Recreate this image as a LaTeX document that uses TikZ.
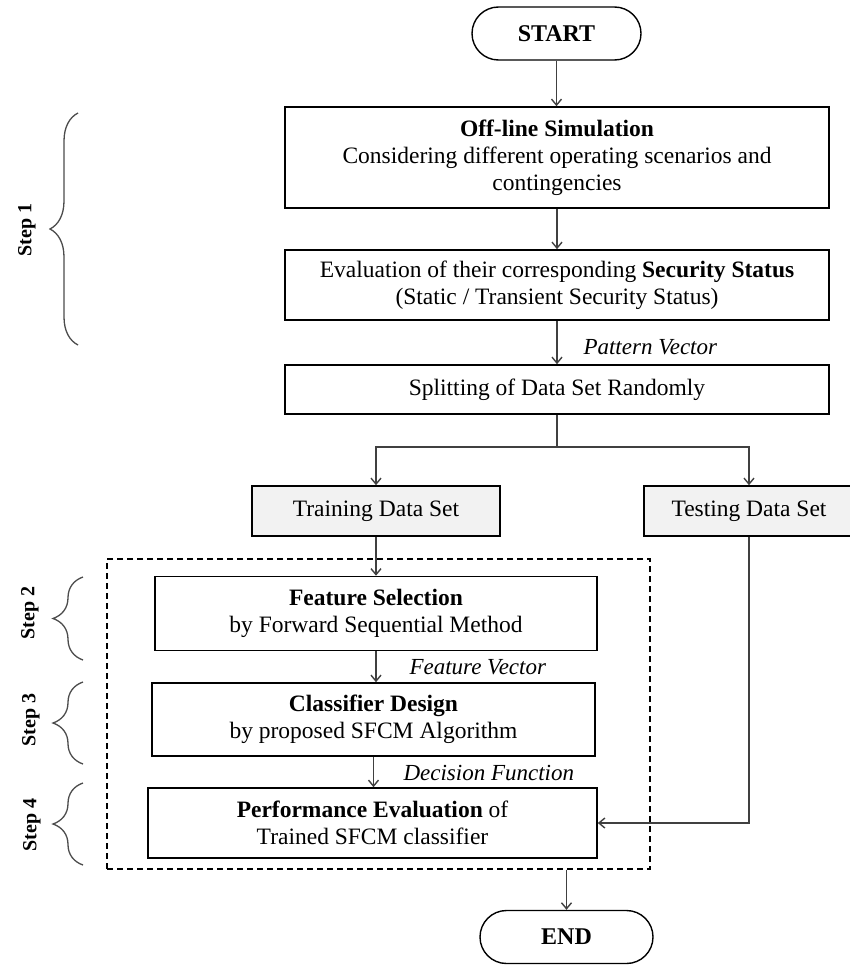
\documentclass[tikz,border=0pt]{standalone}
\usepackage{fontspec}
\setmainfont{Liberation Serif}
\usetikzlibrary{calc, shapes.misc, arrows.meta, decorations, decorations.pathreplacing}

\begin{document}
\begin{tikzpicture}[
    x=1pt,
    y=-1pt,
    every node/.style={font=\fontsize{23.5}{27}\selectfont},
    stepbox/.style={draw, line width=1.6pt, rectangle, inner sep=0, align=center},
    databox/.style={stepbox, fill=gray!10},
    terminal/.style={draw, line width=1.4pt, rounded rectangle, inner sep=0,
      minimum height=53, font=\fontsize{24}{27}\selectfont\bfseries},
    flow/.style={-{Straight Barb[length=6pt, width=10pt]}, line width=1.4pt, black!75},
    vectorlabel/.style={anchor=west, font=\fontsize{23}{26}\selectfont\itshape},
    steplabel/.style={rotate=90, font=\fontsize{20}{24}\selectfont\bfseries},
    stepbrace/.style={decorate, decoration={brace, amplitude=#1}, line width=1.3pt, gray!60!black}]
   \useasboundingbox (0,0) rectangle (849,966);

   \path
     node(start)   at (556.5,33.5) [terminal, minimum width=169] {START}
     node(offline) at (557,157.5)  [stepbox, minimum width=544, minimum height=101]
       {\textbf{Off-line Simulation}\\Considering different operating scenarios and\\contingencies}
     node(evalsec) at (557,285)    [stepbox, minimum width=544, minimum height=70]
       {Evaluation of their corresponding \textbf{Security Status}\\(Static / Transient Security Status)}
     node(split)   at (557,389.5)  [stepbox, minimum width=544, minimum height=49]
       {Splitting of Data Set Randomly}
     node(train)   at (376,511)    [databox, minimum width=248, minimum height=50] {Training Data Set}
     node(test)    at (749,511)    [databox, minimum width=210, minimum height=50] {Testing Data Set};

   % training stage
   \node[draw, dash pattern=on 6pt off 4pt, line width=1.3pt, minimum width=543,
     minimum height=310, inner sep=0] (stage) at (378.5,714) {};
   \path
     node(featsel) at (376,613.5)   [stepbox, minimum width=442, minimum height=74]
       {\textbf{Feature Selection}\\by Forward Sequential Method}
     node(classif) at (373.5,719.5) [stepbox, minimum width=443, minimum height=73]
       {\textbf{Classifier Design}\\by proposed SFCM Algorithm}
     node(perf)    at (372.5,823)   [stepbox, minimum width=449, minimum height=70]
       {\textbf{Performance Evaluation} of\\Trained SFCM classifier}
     node(end)     at (566.5,937)   [terminal, minimum width=173] {END};

   \node[vectorlabel] (patvec) at (580,347) {Pattern Vector};
   \node[vectorlabel] (featvec) at (406,667) {Feature Vector};
   \node[vectorlabel] (decfun) at (400,773) {Decision Function};

   \draw[flow] (start.south) -- (start.south |- offline.north);
   \draw[flow] (offline) -- (evalsec);
   \draw[flow] (evalsec.south) -- (evalsec.south |- split.north);

   \coordinate (fork) at ($(split.south)+(0,32)$);
   \draw[line width=1.4pt, black!75] (split.south) -- (fork);
   \draw[flow] (fork) -| (train.north);
   \draw[flow] (fork) -| (test.north);
   \draw[flow] (train.south) -- (featsel.north);
   \draw[flow] (featsel.south) -- (featsel.south |- classif.north);
   \draw[flow] (classif.south) -- (classif.south |- perf.north);
   \draw[flow] (test.south) |- (perf.east);
   \draw[flow] (end.north |- stage.south) -- (end.north);

   % steps
   \draw[stepbrace=28] (78,345) -- (78,113);
   \draw[stepbrace=30] (83,660) -- (83,577);
   \draw[stepbrace=30] (83,764) -- (83,682);
   \draw[stepbrace=30] (83,865) -- (83,783);
   \node[steplabel] (step1) at (27,230) {Step 1};
   \node[steplabel] (step2) at (30,613) {Step 2};
   \node[steplabel] (step3) at (31,720) {Step 3};
   \node[steplabel] (step4) at (32,825) {Step 4};
\end{tikzpicture}
\end{document}
